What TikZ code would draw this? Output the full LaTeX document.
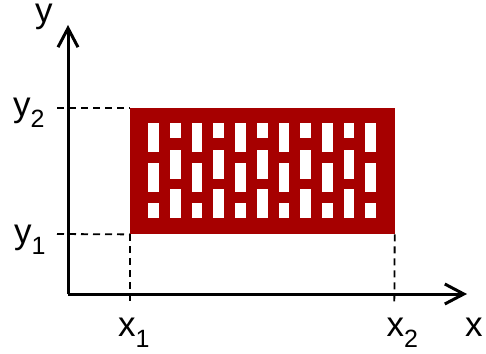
\documentclass[tikz,border=0pt]{standalone}
\usepackage{fontspec}
\setmainfont{Liberation Sans}
\usetikzlibrary{arrows.meta}
\definecolor{brickred}{RGB}{166,0,0}
\newcommand{\lbl}[2]{#1\raisebox{-11pt}{\fontsize{25}{25}\selectfont #2}}
\begin{document}
\begin{tikzpicture}[x=1pt,y=-1pt,
  axis/.style={line width=3pt,-{Straight Barb[length=19pt,width=20pt,line width=3pt]}},
  guide/.style={line width=1.8pt,dash pattern=on 7pt off 5pt},
  lab/.style={inner sep=0pt,anchor=base west,font=\fontsize{35}{36}\selectfont},
  hole/.style={fill=white,draw=none}]
\useasboundingbox (0,0) rectangle (486,353);
% axes
\coordinate (O) at (68,294);
\coordinate (ytip) at (68,25);
\coordinate (xtip) at (467,294);
\draw[axis] (O) -- (ytip);
\draw[axis] (O) -- (xtip);
% plate
\node[fill=brickred,draw=none,minimum width=264.3pt,minimum height=126pt,inner sep=0pt,anchor=north west] (plate) at (130,108) {};
\foreach \i in {0,...,10}{
  \pgfmathsetmacro{\xl}{148.3+21.7*\i}
  \pgfmathsetmacro{\xr}{\xl+10.7}
  \ifodd\i
    \fill[hole] (\xl,122.7) rectangle (\xr,138.3);
    \fill[hole] (\xl,150) rectangle (\xr,179);
    \fill[hole] (\xl,189.3) rectangle (\xr,218.3);
  \else
    \fill[hole] (\xl,122.7) rectangle (\xr,151.7);
    \fill[hole] (\xl,163.3) rectangle (\xr,191.7);
    \fill[hole] (\xl,202.7) rectangle (\xr,218.3);
  \fi
}
% guide end points
\coordinate (ty2) at (57,108);
\coordinate (ty1) at (57,234);
\coordinate (tx1) at (130,306);
\coordinate (tx2) at (394.3,306);
\draw[guide] (ty2) -- (plate.north west);
\draw[guide] (ty1) -- (plate.south west);
\draw[guide] (plate.south west) -- (tx1);
\draw[guide] (plate.south east) -- (tx2);
% labels
\node[lab] (ylab) at (35,23) {y};
\node[lab] (y2lab) at (13,116.5) {\lbl{y}{2}};
\node[lab] (y1lab) at (14,243) {\lbl{y}{1}};
\node[lab] (x1lab) at (118,336) {\lbl{x}{1}};
\node[lab] (x2lab) at (386.5,336) {\lbl{x}{2}};
\node[lab] (xlab) at (465,336) {x};
\end{tikzpicture}
\end{document}
